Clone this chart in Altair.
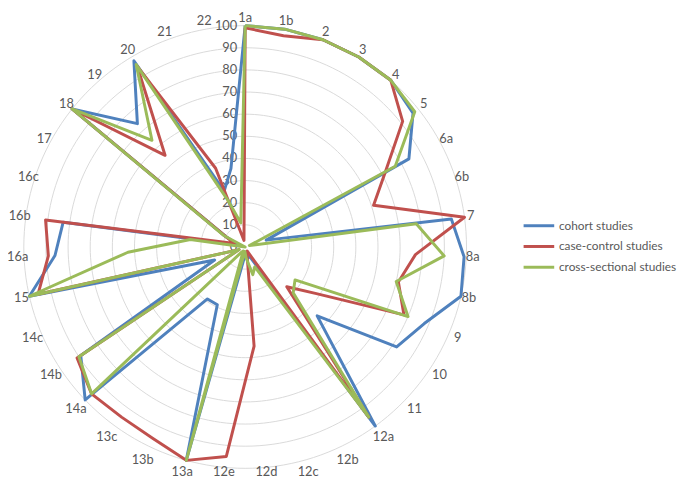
import math
import pandas as pd
import altair as alt

labels = ["1a", "1b", "2", "3", "4", "5", "6a", "6b", "7", "8a", "8b", "9", "10", "11",
          "12a", "12b", "12c", "12d", "12e", "13a", "13b", "13c", "14a", "14b", "14c",
          "15", "16a", "16b", "16c", "17", "18", "19", "20", "21", "22"]

cohort = [100, 100, 100, 100, 100, 97, 84, 10, 94, 99, 100, 88, 82, 45,
          100, 5, 5, 3, 5, 100, 29, 29, 100, 89, 15,
          100, 86, 83, 3, 10, 100, 74, 98, 27, 36]
case_control = [99, 97, 100, 100, 100, 91, 72, 61, 100, 77, 71, 78, 38, 26,
                95, 2, 3, 45, 95, 100, 96, 95, 96, 91, 3,
                96, 89, 91, 5, 10, 100, 55, 95, 38, 3]
cross_sectional = [100, 100, 100, 100, 100, 98, 77, 2, 78, 90, 70, 80, 27, 30,
                   95, 10, 13, 5, 2, 100, 2, 3, 96, 90, 3,
                   100, 53, 25, 0, 11, 100, 64, 96, 23, 11]

series_names = ["cohort studies", "case-control studies", "cross-sectional studies"]
series_colors = ["#4F81BD", "#C0504D", "#9BBB59"]
ring_values = [10, 20, 30, 40, 50, 60, 70, 80, 90, 100]
tick_values = [0, 10, 20, 30, 40, 50, 60, 70, 80, 90, 100]

N = len(labels)
W, H = 677, 475
CX, CY = 240, 239          # centre of the radar in chart pixels
K = 2.24                   # pixels per value unit

rows = []
for name, vals in zip(series_names, [cohort, case_control, cross_sectional]):
    for i in range(N + 1):
        rows.append({"series": name, "idx": i, "value": vals[i % N]})
df = pd.DataFrame(rows)

grid_rows = []
for r in ring_values:
    for j in range(0, 181):
        grid_rows.append({"ring": r, "step": j})
grid = pd.DataFrame(grid_rows)

lab_df = pd.DataFrame({"label": labels, "idx": list(range(N))})
tick_df = pd.DataFrame({"tick": tick_values})

xs = alt.Scale(domain=[-CX / K, (W - CX) / K], nice=False, zero=False)
ys = alt.Scale(domain=[-(H - CY) / K, CY / K], nice=False, zero=False)

gridlines = alt.Chart(grid).transform_calculate(
    a="datum.step * 2 * PI / 180",
    gx="datum.ring * sin(datum.a)",
    gy="datum.ring * cos(datum.a)",
).mark_line(color="#D9D9D9", strokeWidth=1).encode(
    x=alt.X("gx:Q", scale=xs, axis=None),
    y=alt.Y("gy:Q", scale=ys, axis=None),
    detail="ring:N",
    order="step:Q",
)

ticks = alt.Chart(tick_df).transform_calculate(
    tx="0"
).mark_text(align="right", baseline="middle", dx=-8, fontSize=13,
            font="Lato", color="#595959").encode(
    x=alt.X("tx:Q", scale=xs, axis=None),
    y=alt.Y("tick:Q", scale=ys, axis=None),
    text="tick:Q",
)

bottom_limit = -(H - CY - 8) / K
cat_labels = alt.Chart(lab_df).transform_calculate(
    a=f"datum.idx * 2 * PI / {N}",
    c="cos(datum.a)",
    lr=f"(230 + (datum.c > 0 ? 2 : 10) * abs(datum.c)) / {K}",
    lx="datum.lr * sin(datum.a)",
    ly=f"max(datum.lr * datum.c, {bottom_limit})",
).mark_text(align="center", baseline="middle", fontSize=13, font="Lato",
            color="#595959").encode(
    x=alt.X("lx:Q", scale=xs, axis=None),
    y=alt.Y("ly:Q", scale=ys, axis=None),
    text="label:N",
)

color = alt.Color("series:N",
                  scale=alt.Scale(domain=series_names, range=series_colors),
                  legend=alt.Legend(title=None, orient="none",
                                    legendX=527.75, legendY=208,
                                    symbolType="M-2,0H2", symbolSize=240,
                                    symbolStrokeWidth=3,
                                    labelFont="Lato", labelFontSize=12,
                                    labelColor="#595959", labelOffset=10.75,
                                    labelLimit=200,
                                    rowPadding=5, padding=0))

def series_layer(name):
    return alt.Chart(df).transform_filter(
        alt.datum.series == name
    ).transform_calculate(
        a=f"datum.idx * 2 * PI / {N}",
        px="datum.value * sin(datum.a)",
        py="datum.value * cos(datum.a)",
    ).mark_line(strokeWidth=3, strokeJoin="round").encode(
        x=alt.X("px:Q", scale=xs, axis=None),
        y=alt.Y("py:Q", scale=ys, axis=None),
        order="idx:Q",
        color=color,
    )

chart = alt.layer(
    gridlines, ticks, cat_labels,
    series_layer(series_names[0]),
    series_layer(series_names[1]),
    series_layer(series_names[2]),
).properties(
    width=W, height=H, padding=0,
    autosize=alt.AutoSizeParams(type="none"),
).configure_view(stroke=None)

chart.save("out.html", embed_options={"renderer": "svg", "actions": False})
